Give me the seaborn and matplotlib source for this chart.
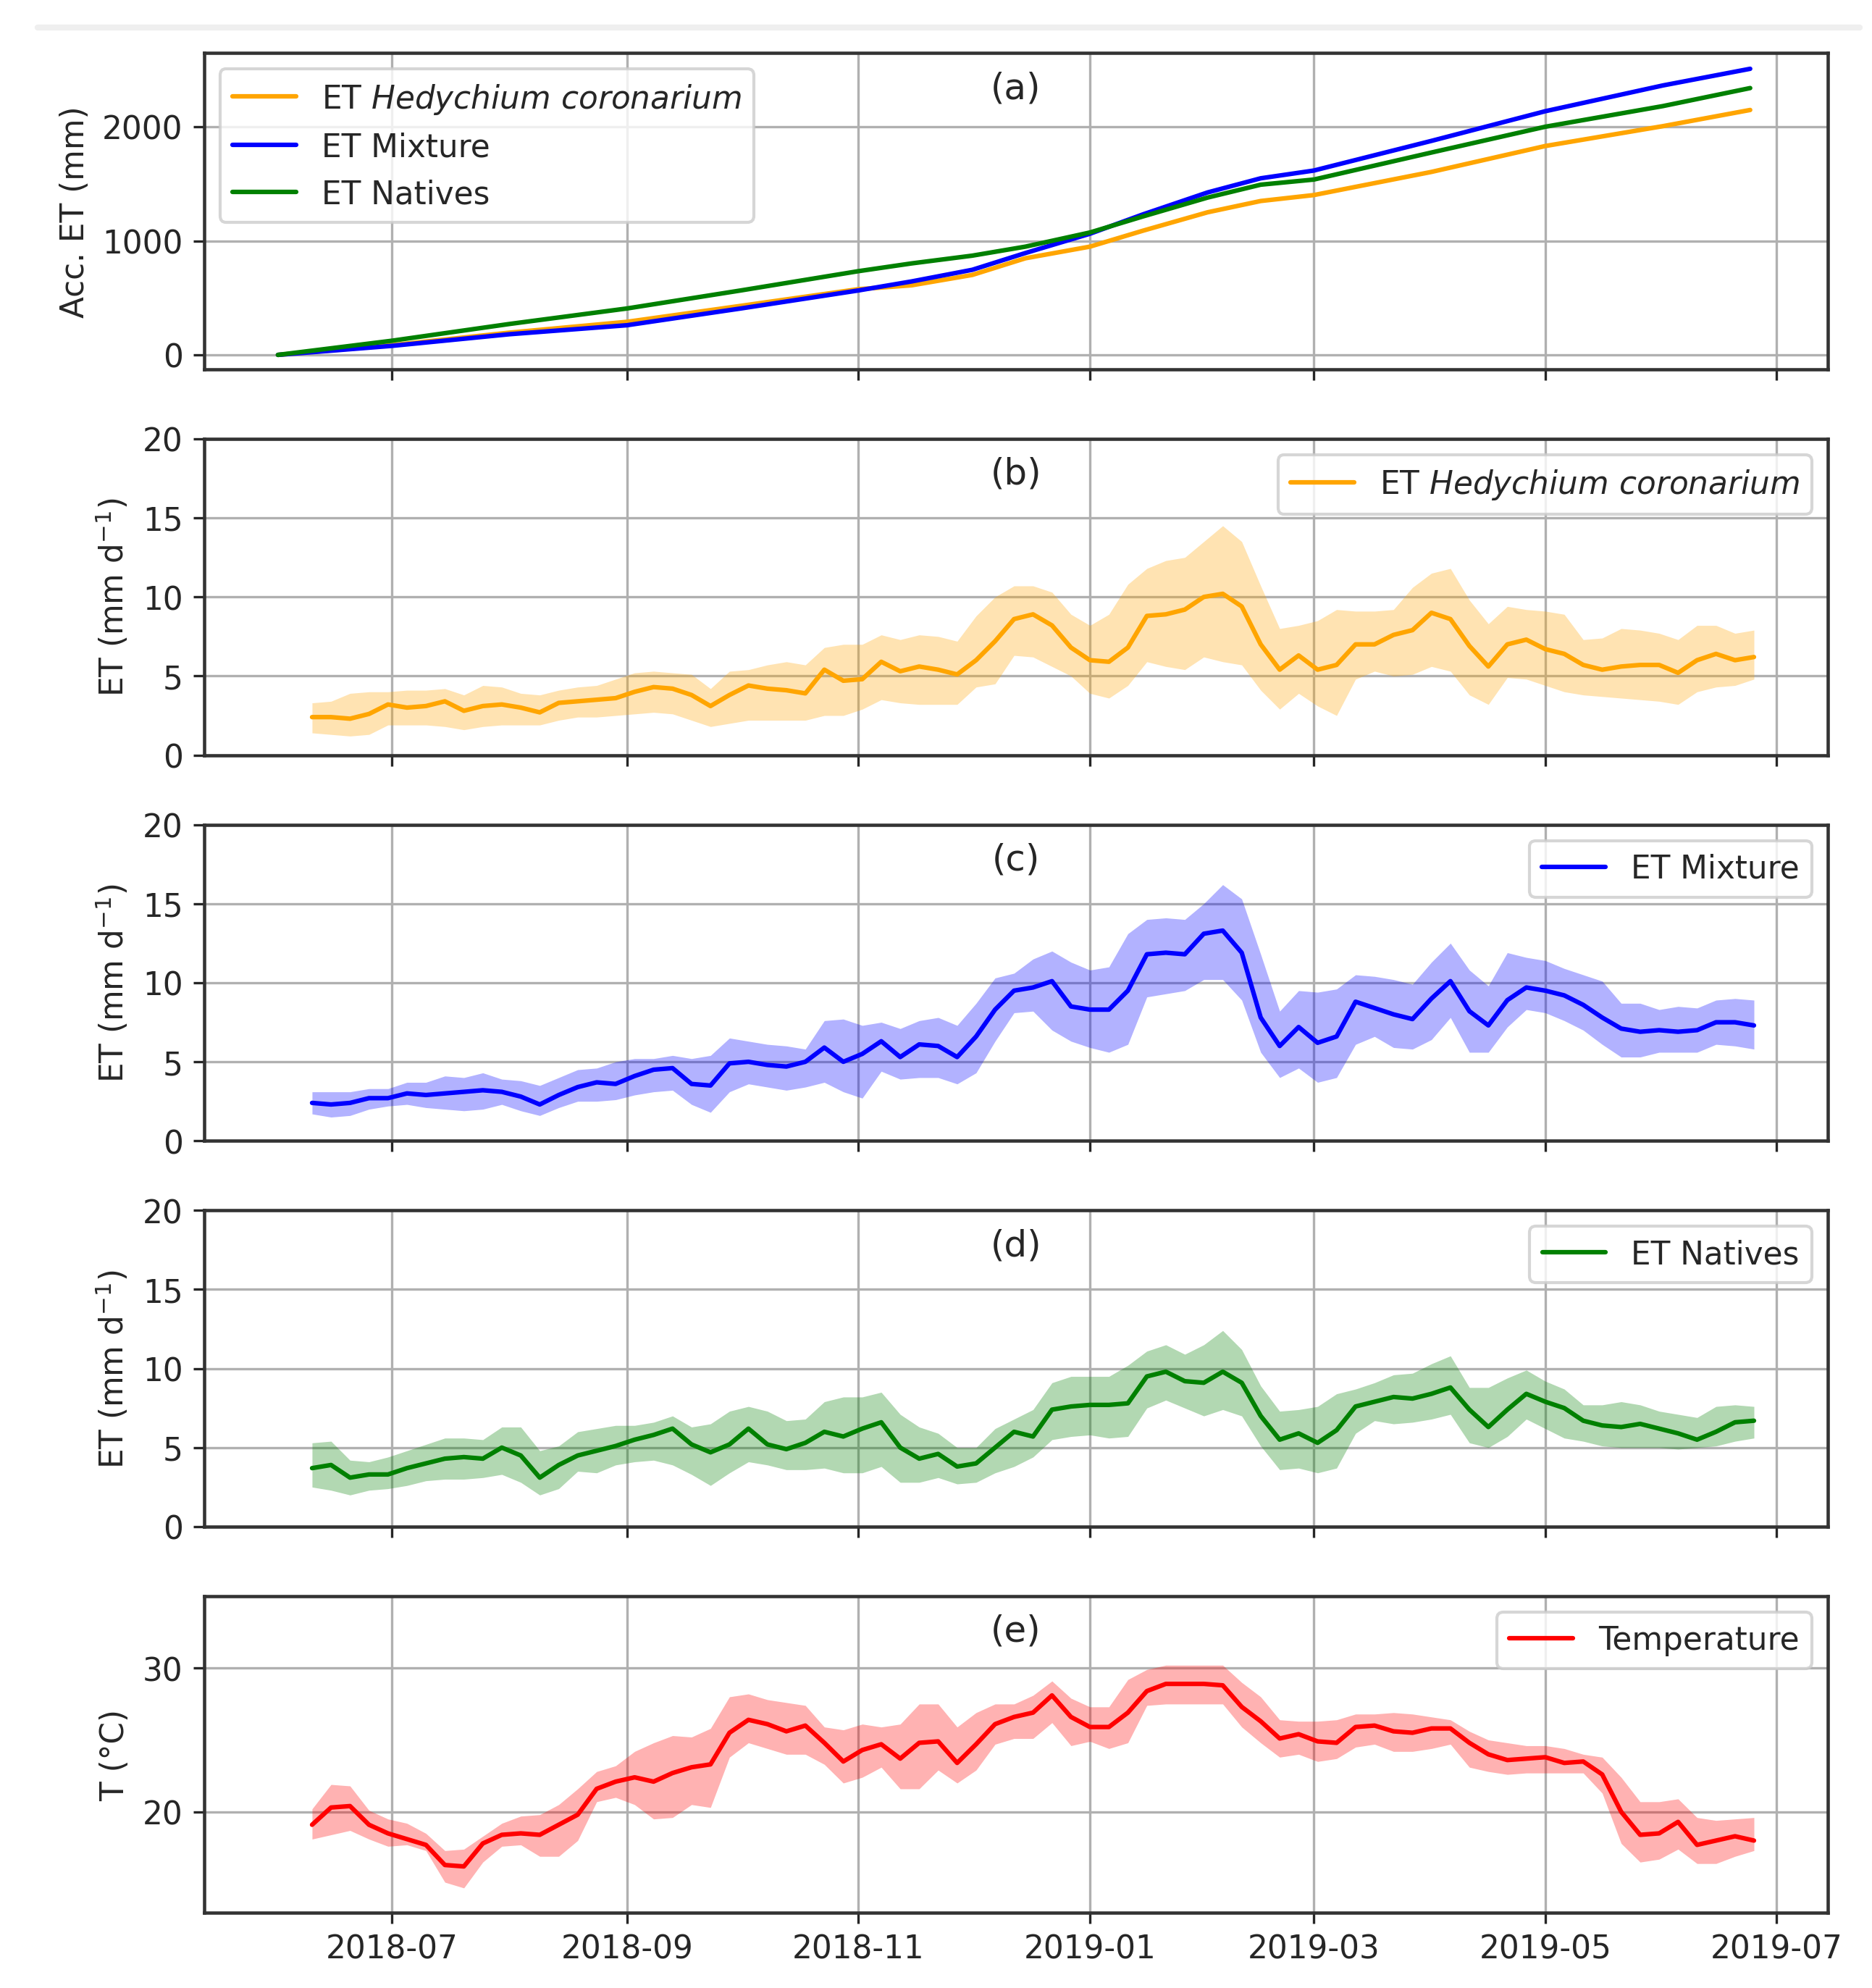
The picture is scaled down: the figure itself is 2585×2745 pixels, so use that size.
import numpy as np
import pandas as pd
import matplotlib
matplotlib.use('Agg')
import matplotlib.pyplot as plt
import matplotlib.dates as mdates
from matplotlib.lines import Line2D
import seaborn as sns

dates = pd.date_range('2018-06-10', periods=77, freq='5D')

hed_mean = [2.4, 2.4, 2.3, 2.6, 3.2, 3.0, 3.1, 3.4, 2.8, 3.1, 3.2, 3.0, 2.7, 3.3, 3.4, 3.5, 3.6, 4.0, 4.3, 4.2,
            3.8, 3.1, 3.8, 4.4, 4.2, 4.1, 3.9, 5.4, 4.7, 4.8, 5.9, 5.3, 5.6, 5.4, 5.1, 6.0, 7.2, 8.6, 8.9, 8.2,
            6.8, 6.0, 5.9, 6.8, 8.8, 8.9, 9.2, 10.0, 10.2, 9.4, 7.0, 5.4, 6.3, 5.4, 5.7, 7.0, 7.0, 7.6, 7.9, 9.0,
            8.6, 6.9, 5.6, 7.0, 7.3, 6.7, 6.4, 5.7, 5.4, 5.6, 5.7, 5.7, 5.2, 6.0, 6.4, 6.0, 6.2]
hed_hi = [3.3, 3.4, 3.9, 4.0, 4.0, 4.1, 4.1, 4.2, 3.8, 4.4, 4.3, 3.9, 3.8, 4.1, 4.3, 4.4, 4.8, 5.2, 5.3, 5.2,
          5.1, 4.2, 5.3, 5.4, 5.7, 5.9, 5.7, 6.8, 7.0, 7.0, 7.6, 7.3, 7.6, 7.5, 7.2, 8.8, 10.0, 10.7, 10.7, 10.3,
          8.9, 8.2, 8.9, 10.8, 11.8, 12.3, 12.5, 13.5, 14.5, 13.5, 10.7, 8.0, 8.2, 8.5, 9.2, 9.1, 9.1, 9.2, 10.6, 11.5,
          11.8, 9.8, 8.3, 9.4, 9.2, 9.1, 8.9, 7.3, 7.4, 8.0, 7.9, 7.7, 7.3, 8.2, 8.2, 7.7, 7.9]
hed_lo = [1.4, 1.3, 1.2, 1.3, 1.9, 1.9, 1.9, 1.8, 1.6, 1.8, 1.9, 1.9, 1.9, 2.2, 2.4, 2.4, 2.5, 2.6, 2.7, 2.6,
          2.2, 1.8, 2.0, 2.2, 2.2, 2.2, 2.2, 2.5, 2.5, 2.9, 3.5, 3.3, 3.2, 3.2, 3.2, 4.3, 4.5, 6.3, 6.2, 5.6,
          5.0, 3.9, 3.6, 4.4, 5.9, 5.6, 5.4, 6.2, 5.9, 5.7, 4.1, 2.9, 3.9, 3.1, 2.5, 4.8, 5.3, 5.0, 5.1, 5.6,
          5.3, 3.8, 3.2, 4.9, 4.8, 4.4, 4.0, 3.8, 3.7, 3.6, 3.5, 3.4, 3.2, 4.0, 4.3, 4.4, 4.8]

mix_mean = [2.4, 2.3, 2.4, 2.7, 2.7, 3.0, 2.9, 3.0, 3.1, 3.2, 3.1, 2.8, 2.3, 2.9, 3.4, 3.7, 3.6, 4.1, 4.5, 4.6,
            3.6, 3.5, 4.9, 5.0, 4.8, 4.7, 5.0, 5.9, 5.0, 5.5, 6.3, 5.3, 6.1, 6.0, 5.3, 6.6, 8.3, 9.5, 9.7, 10.1,
            8.5, 8.3, 8.3, 9.5, 11.8, 11.9, 11.8, 13.1, 13.3, 11.9, 7.8, 6.0, 7.2, 6.2, 6.6, 8.8, 8.4, 8.0, 7.7, 9.0,
            10.1, 8.2, 7.3, 8.9, 9.7, 9.5, 9.2, 8.6, 7.8, 7.1, 6.9, 7.0, 6.9, 7.0, 7.5, 7.5, 7.3]
mix_hi = [3.1, 3.1, 3.1, 3.3, 3.3, 3.7, 3.7, 4.1, 4.0, 4.3, 3.9, 3.8, 3.5, 4.0, 4.5, 4.6, 5.0, 5.2, 5.2, 5.4,
          5.2, 5.4, 6.5, 6.3, 6.1, 6.0, 5.8, 7.6, 7.7, 7.3, 7.5, 7.1, 7.6, 7.8, 7.3, 8.7, 10.3, 10.6, 11.5, 12.0,
          11.3, 10.8, 11.0, 13.1, 14.0, 14.1, 14.0, 15.0, 16.2, 15.3, 11.8, 8.2, 9.5, 9.4, 9.6, 10.5, 10.4, 10.2, 9.9, 11.3,
          12.5, 10.8, 9.8, 11.9, 11.6, 11.4, 10.9, 10.5, 10.1, 8.7, 8.7, 8.3, 8.5, 8.4, 8.9, 9.0, 8.9]
mix_lo = [1.7, 1.5, 1.6, 2.0, 2.2, 2.3, 2.1, 2.0, 1.9, 2.0, 2.3, 1.9, 1.6, 2.1, 2.5, 2.5, 2.6, 2.9, 3.1, 3.2,
          2.3, 1.8, 3.1, 3.6, 3.4, 3.2, 3.4, 3.7, 3.1, 2.7, 4.4, 3.9, 4.0, 4.0, 3.6, 4.3, 6.3, 8.1, 8.2, 7.0,
          6.3, 5.9, 5.6, 6.1, 9.1, 9.3, 9.5, 10.2, 10.2, 8.9, 5.6, 4.0, 4.6, 3.7, 4.0, 6.1, 6.6, 5.9, 5.8, 6.4,
          7.8, 5.6, 5.6, 7.2, 8.3, 8.1, 7.6, 7.0, 6.1, 5.3, 5.3, 5.6, 5.6, 5.6, 6.1, 6.0, 5.8]

nat_mean = [3.7, 3.9, 3.1, 3.3, 3.3, 3.7, 4.0, 4.3, 4.4, 4.3, 5.0, 4.5, 3.1, 3.9, 4.5, 4.8, 5.1, 5.5, 5.8, 6.2,
            5.2, 4.7, 5.2, 6.2, 5.2, 4.9, 5.3, 6.0, 5.7, 6.2, 6.6, 5.0, 4.3, 4.6, 3.8, 4.0, 5.0, 6.0, 5.7, 7.4,
            7.6, 7.7, 7.7, 7.8, 9.5, 9.8, 9.2, 9.1, 9.8, 9.1, 7.0, 5.5, 5.9, 5.3, 6.1, 7.6, 7.9, 8.2, 8.1, 8.4,
            8.8, 7.4, 6.3, 7.4, 8.4, 7.9, 7.5, 6.7, 6.4, 6.3, 6.5, 6.2, 5.9, 5.5, 6.0, 6.6, 6.7]
nat_hi = [5.3, 5.4, 4.2, 4.1, 4.4, 4.8, 5.2, 5.6, 5.6, 5.5, 6.3, 6.3, 4.8, 5.1, 6.0, 6.2, 6.4, 6.4, 6.6, 7.0,
          6.3, 6.5, 7.3, 7.6, 7.3, 6.7, 6.8, 7.9, 8.2, 8.2, 8.5, 7.1, 6.3, 5.9, 5.0, 5.0, 6.2, 6.8, 7.4, 9.1,
          9.5, 9.5, 9.5, 10.2, 11.1, 11.5, 10.9, 11.5, 12.4, 11.2, 8.9, 7.3, 7.4, 7.6, 8.4, 8.7, 9.1, 9.6, 9.7, 10.3,
          10.8, 8.8, 8.8, 9.4, 9.9, 9.2, 8.7, 7.7, 7.7, 7.9, 7.7, 7.3, 7.1, 6.9, 7.6, 7.7, 7.6]
nat_lo = [2.5, 2.3, 2.0, 2.3, 2.4, 2.6, 2.9, 3.0, 3.0, 3.1, 3.3, 2.8, 2.0, 2.4, 3.5, 3.4, 3.9, 4.1, 4.2, 3.9,
          3.3, 2.6, 3.4, 4.1, 3.9, 3.6, 3.6, 3.7, 3.4, 3.4, 3.8, 2.8, 2.8, 3.1, 2.7, 2.8, 3.4, 3.8, 4.4, 5.5,
          5.7, 5.8, 5.6, 5.7, 7.5, 8.0, 7.5, 7.0, 7.4, 7.0, 5.1, 3.6, 3.7, 3.4, 3.7, 5.9, 6.7, 6.5, 6.6, 6.8,
          7.1, 5.3, 5.0, 5.7, 6.8, 6.2, 5.6, 5.4, 5.1, 5.0, 5.0, 5.0, 4.9, 5.0, 5.1, 5.4, 5.6]

temp_mean = [19.1, 20.3, 20.4, 19.1, 18.5, 18.1, 17.7, 16.3, 16.2, 17.8, 18.4, 18.5, 18.4, 19.1, 19.8, 21.6, 22.1, 22.4, 22.1, 22.7,
             23.1, 23.3, 25.5, 26.4, 26.1, 25.6, 26.0, 24.8, 23.5, 24.3, 24.7, 23.7, 24.8, 24.9, 23.4, 24.7, 26.1, 26.6, 26.9, 28.1,
             26.6, 25.9, 25.9, 26.9, 28.4, 28.9, 28.9, 28.9, 28.8, 27.3, 26.3, 25.1, 25.4, 24.9, 24.8, 25.9, 26.0, 25.6, 25.5, 25.8,
             25.8, 24.8, 24.0, 23.6, 23.7, 23.8, 23.4, 23.5, 22.6, 20.0, 18.4, 18.5, 19.3, 17.7, 18.0, 18.3, 18.0]
temp_hi = [20.2, 21.9, 21.8, 20.1, 19.5, 19.2, 18.5, 17.3, 17.4, 18.3, 19.2, 19.7, 19.8, 20.5, 21.6, 22.8, 23.2, 24.2, 24.8, 25.3,
           25.2, 25.8, 28.0, 28.2, 27.8, 27.6, 27.4, 25.9, 25.7, 26.1, 25.9, 26.1, 27.5, 27.5, 25.9, 26.9, 27.5, 27.5, 28.1, 29.1,
           27.9, 27.3, 27.3, 29.2, 29.9, 30.2, 30.2, 30.2, 30.2, 29.0, 28.0, 26.4, 26.3, 26.3, 26.4, 26.8, 26.8, 26.9, 26.8, 26.6,
           26.4, 25.6, 25.0, 24.8, 24.6, 24.6, 24.4, 24.0, 23.8, 22.4, 20.7, 20.7, 20.9, 19.6, 19.4, 19.5, 19.6]
temp_lo = [18.1, 18.4, 18.7, 18.1, 17.6, 17.7, 17.3, 15.1, 14.7, 16.5, 17.6, 17.7, 16.9, 16.9, 18.0, 20.7, 21.0, 20.5, 19.5, 19.6,
           20.5, 20.3, 23.8, 24.8, 24.4, 24.0, 24.0, 23.3, 22.0, 22.4, 23.1, 21.6, 21.6, 22.9, 22.0, 22.9, 24.7, 25.1, 25.1, 26.2,
           24.6, 24.9, 24.4, 24.8, 27.4, 27.5, 27.5, 27.5, 27.5, 25.9, 24.8, 23.8, 24.0, 23.5, 23.7, 24.5, 24.7, 24.2, 24.2, 24.4,
           24.7, 23.1, 22.8, 22.6, 22.7, 22.7, 22.7, 22.7, 21.3, 17.8, 16.5, 16.7, 17.4, 16.4, 16.4, 16.9, 17.3]

# accumulated ET (mm)
acc_dates = pd.to_datetime(['2018-06-01', '2018-07-01', '2018-08-01', '2018-09-01', '2018-10-01', '2018-11-01',
                            '2018-11-15', '2018-12-01', '2018-12-15', '2019-01-01', '2019-01-15', '2019-02-01',
                            '2019-02-15', '2019-03-01', '2019-04-01', '2019-05-01', '2019-06-01', '2019-06-24'])
acc_hed = [0, 85, 195, 290, 430, 576, 610, 701, 847, 949, 1089, 1250, 1349, 1401, 1604, 1831, 2005, 2147]
acc_mix = [0, 79, 181, 260, 407, 565, 644, 746, 893, 1062, 1232, 1424, 1548, 1616, 1876, 2136, 2362, 2508]
acc_nat = [0, 124, 271, 407, 565, 734, 802, 870, 949, 1073, 1214, 1379, 1492, 1537, 1774, 2000, 2181, 2339]

hed_label = 'ET $\\it{Hedychium\\ coronarium}$'

sns.set_style('ticks', {'axes.grid': True, 'grid.color': '#b0b0b0', 'axes.edgecolor': '0.2'})
plt.rcParams['font.family'] = ['DejaVu Sans']
plt.rcParams['font.size'] = 10.5
plt.rcParams['mathtext.fontset'] = 'dejavusans'
plt.rcParams['grid.linewidth'] = 0.8
plt.rcParams['axes.linewidth'] = 1.1

fig, axes = plt.subplots(5, 1, figsize=(8.62, 9.153), dpi=300, sharex=True)
fig.subplots_adjust(left=0.109, right=0.976, top=0.973, bottom=0.038, hspace=0.22)

# (a) accumulated
ax = axes[0]
sns.lineplot(x=acc_dates, y=acc_hed, color='orange', linewidth=1.5, label=hed_label, ax=ax)
sns.lineplot(x=acc_dates, y=acc_mix, color='blue', linewidth=1.5, label='ET Mixture', ax=ax)
sns.lineplot(x=acc_dates, y=acc_nat, color='green', linewidth=1.5, label='ET Natives', ax=ax)
ax.set_ylim(-126, 2646)
ax.set_yticks([0, 1000, 2000])
ax.set_ylabel('Acc. ET (mm)')
ax.legend(loc='upper left')

panels = [
    (axes[1], hed_mean, hed_lo, hed_hi, 'orange', hed_label),
    (axes[2], mix_mean, mix_lo, mix_hi, 'blue', 'ET Mixture'),
    (axes[3], nat_mean, nat_lo, nat_hi, 'green', 'ET Natives'),
]
for ax, m, lo, hi, c, lab in panels:
    ax.fill_between(dates, lo, hi, color=c, alpha=0.3, linewidth=0)
    sns.lineplot(x=dates, y=m, color=c, linewidth=1.5, label=lab, ax=ax)
    ax.set_ylim(0, 20)
    ax.set_yticks([0, 5, 10, 15, 20])
    ax.set_ylabel('ET (mm d$^{-1}$)')
    ax.legend(loc='upper right')

ax = axes[4]
ax.fill_between(dates, temp_lo, temp_hi, color='red', alpha=0.3, linewidth=0)
sns.lineplot(x=dates, y=temp_mean, color='red', linewidth=1.5, label='Temperature', ax=ax)
ax.set_ylim(13, 35)
ax.set_yticks([20, 30])
ax.set_ylabel('T (°C)')
ax.legend(loc='upper right')

for ax, tag in zip(axes, 'abcde'):
    ax.text(0.5, 0.89, '(%s)' % tag, transform=ax.transAxes, ha='center', va='center', fontsize=12)
    ax.grid(True)
    ax.set_xlabel('')

axes[-1].xaxis.set_major_locator(mdates.MonthLocator(bymonth=[1, 3, 5, 7, 9, 11]))
axes[-1].xaxis.set_major_formatter(mdates.DateFormatter('%Y-%m'))

fig.add_artist(Line2D([0.02, 0.993], [0.986, 0.986], transform=fig.transFigure, color='#efefef', linewidth=2))

fig.savefig('out.png', dpi=300)
